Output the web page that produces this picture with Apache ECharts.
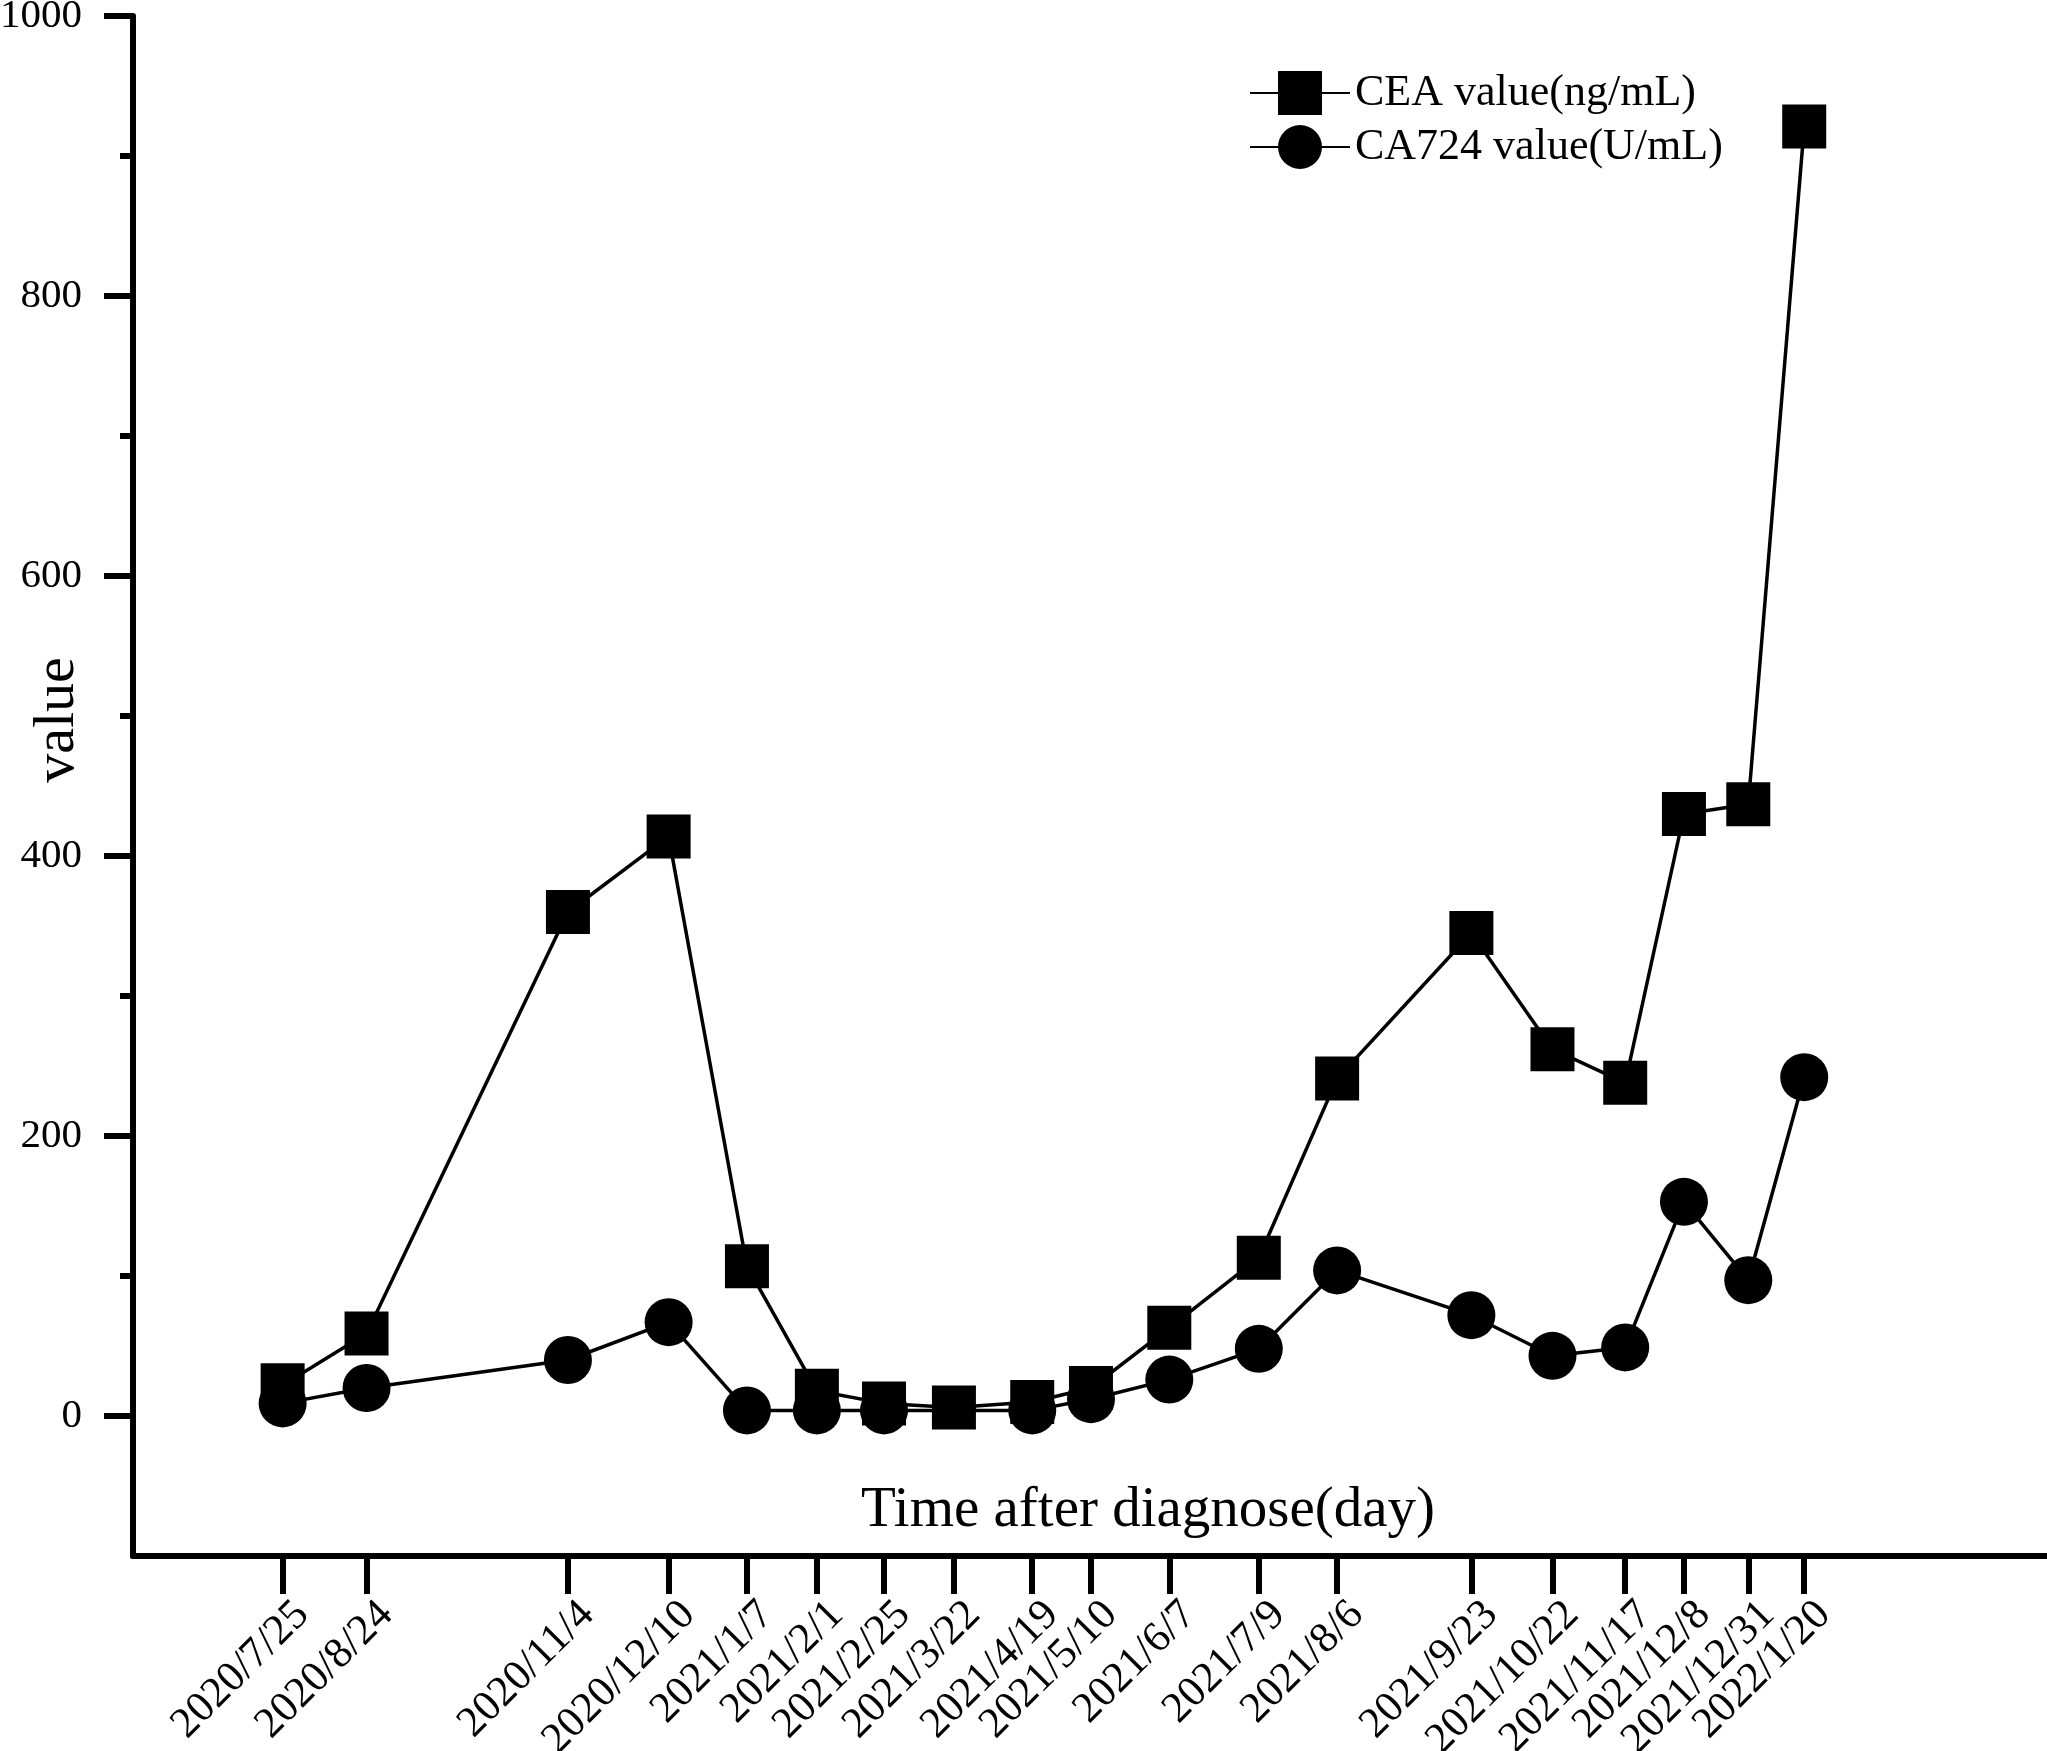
<!DOCTYPE html>
<html>
<head>
<meta charset="utf-8">
<script src="https://cdn.jsdelivr.net/npm/echarts@6/dist/echarts.min.js"></script>
<style>
    html, body { margin: 0; padding: 0; background: #fff; }
    #chart { width: 2047px; height: 1751px; }
</style>
</head>
<body>
<div id="chart"></div>
<script>
// sampling dates (x axis tick labels)
var dates = ['2020/7/25', '2020/8/24', '2020/11/4', '2020/12/10', '2021/1/7', '2021/2/1',
    '2021/2/25', '2021/3/22', '2021/4/19', '2021/5/10', '2021/6/7', '2021/7/9', '2021/8/6',
    '2021/9/23', '2021/10/22', '2021/11/17', '2021/12/8', '2021/12/31', '2022/1/20'];
// CEA value (ng/mL)
var cea = [22, 59, 360, 414, 107, 18, 9, 6, 10, 20, 63, 113, 241, 345, 262, 238, 430, 437, 921];
// CA724 value (U/mL), no reading on 2021/3/22
var ca724 = [9, 20, 40, 67, 4, 4, 4, null, 4, 12, 26, 48, 104, 72, 43, 49, 153, 97, 242];
// y axis
var yMajor = [0, 200, 400, 600, 800, 1000];
var yMinor = [100, 300, 500, 700, 900];

(function () {
    var FONT = '"Liberation Serif", "Times New Roman", serif';
    var start = Date.UTC(2020, 6, 25);
    function dayNum(s) {
        var p = s.split('/');
        return (Date.UTC(+p[0], +p[1] - 1, +p[2]) - start) / 864e5;
    }
    var days = dates.map(dayNum);
    var xMin = -53.5, xMax = 630.8;
    // labels overlap at the right end and echarts drops the last one,
    // so every other date goes on a second (invisible) x axis
    var ticksA = days.filter(function (d, i) { return i % 2 === 0; });
    var ticksB = days.filter(function (d, i) { return i % 2 === 1; });

    var chart = echarts.init(document.getElementById('chart'));
    var axisLine = { show: true, onZero: false, lineStyle: { color: '#000', width: 6 } };

    function dateAxis(ticks, showLine) {
        return {
            type: 'value',
            position: 'bottom',
            min: xMin,
            max: xMax,
            axisLine: showLine ? axisLine : { show: false, onZero: false },
            splitLine: { show: false },
            axisTick: { show: true, interval: 0, customValues: ticks, length: 38, lineStyle: { color: '#000', width: 6 } },
            axisLabel: {
                customValues: ticks,
                rotate: 45,
                margin: 72,
                padding: [0, -28, 0, 0],
                interval: 0,
                hideOverlap: false,
                fontFamily: FONT,
                fontSize: 43,
                color: '#000',
                formatter: function (v) {
                    var i = days.indexOf(v);
                    return i < 0 ? '' : dates[i];
                }
            }
        };
    }

    var option = {
        backgroundColor: '#fff',
        animation: false,
        title: {
            text: 'Time after diagnose(day)',
            left: 856,
            top: 1478,
            textStyle: { fontFamily: FONT, fontWeight: 'normal', fontSize: 57, color: '#000' }
        },
        legend: {
            orient: 'vertical',
            left: 1244,
            top: 66,
            itemWidth: 100,
            itemHeight: 55,
            itemGap: 10,
            textStyle: { fontFamily: FONT, fontSize: 44, color: '#000' },
            data: ['CEA value(ng/mL)', 'CA724 value(U/mL)']
        },
        grid: { left: 133, top: 16, right: 0, bottom: 195, containLabel: false, outerBoundsMode: 'none' },
        xAxis: [dateAxis(ticksA, true), dateAxis(ticksB, false)],
        yAxis: [{
            type: 'value',
            min: -100,
            max: 1000,
            interval: 100,
            name: 'value',
            nameLocation: 'middle',
            nameGap: 46,
            nameMoveOverlap: false,
            nameTextStyle: { fontFamily: FONT, fontSize: 58, color: '#000', padding: [0, 0, 0, 132] },
            axisLine: axisLine,
            splitLine: { show: false },
            axisTick: { show: true, customValues: yMajor, length: 29, lineStyle: { color: '#000', width: 6 } },
            axisLabel: {
                customValues: yMajor, margin: 51, fontFamily: FONT, fontSize: 41, color: '#000',
                formatter: function (v) { return String(v); }
            }
        }, {
            // minor ticks only
            type: 'value',
            position: 'left',
            min: -100,
            max: 1000,
            interval: 100,
            axisLine: { show: false, onZero: false },
            splitLine: { show: false },
            axisTick: { show: true, customValues: yMinor, length: 13, lineStyle: { color: '#000', width: 6 } },
            axisLabel: { show: false }
        }],
        series: [{
            name: 'CEA value(ng/mL)',
            type: 'line',
            data: days.map(function (d, i) { return [d, cea[i]]; }),
            symbol: 'rect',
            symbolSize: 44,
            color: '#000',
            itemStyle: { color: '#000' },
            lineStyle: { color: '#000', width: 3.5 }
        }, {
            name: 'CA724 value(U/mL)',
            type: 'line',
            data: days.map(function (d, i) { return [d, ca724[i]]; }),
            connectNulls: true,
            symbol: 'circle',
            symbolSize: 48,
            color: '#000',
            itemStyle: { color: '#000' },
            lineStyle: { color: '#000', width: 3.5 }
        }]
    };
    chart.setOption(option);
}());
</script>
</body>
</html>
